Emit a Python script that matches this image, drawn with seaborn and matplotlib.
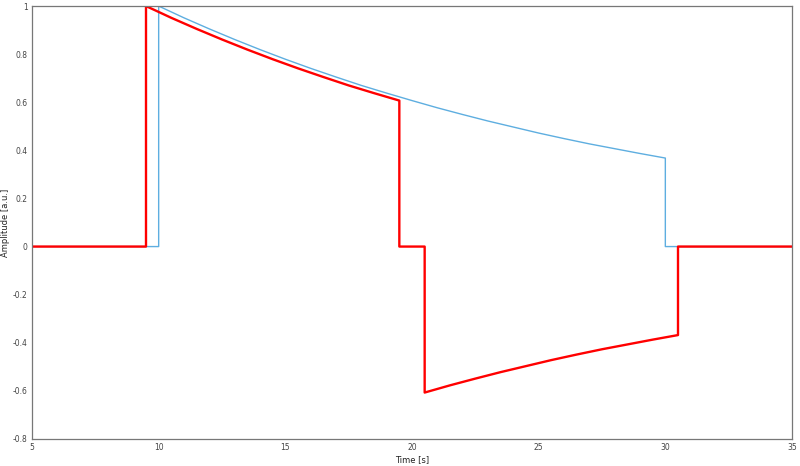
import numpy as np
import pandas as pd
import seaborn as sns
import matplotlib
matplotlib.use("Agg")
import matplotlib.pyplot as plt

# blue pulse: on at 10 s, decays until 30 s (1 s steps)
blue_on, blue_off = 10.0, 30.0
blue_decay = [1.000, 0.951, 0.905, 0.861, 0.819, 0.779, 0.741, 0.705, 0.670, 0.638,
              0.607, 0.577, 0.549, 0.522, 0.497, 0.472, 0.449, 0.427, 0.407, 0.387, 0.368]

# red pulse: positive lobe 9.5-19.5 s, negative lobe 20.5-30.5 s
red_pos_on, red_pos_off = 9.5, 19.5
red_pos_decay = [1.000, 0.951, 0.905, 0.861, 0.819, 0.779, 0.741, 0.705, 0.670, 0.638, 0.607]
red_neg_on, red_neg_off = 20.5, 30.5
red_neg_decay = [-0.607, -0.577, -0.549, -0.522, -0.497, -0.472, -0.449, -0.427, -0.407, -0.387, -0.368]

t_start, t_end = 5.0, 35.0


def lobe(t0, t1, vals):
    t = list(np.linspace(t0, t1, len(vals)))
    return [t0] + t + [t1], [0.0] + list(vals) + [0.0]


bt, bv = lobe(blue_on, blue_off, blue_decay)
blue_df = pd.DataFrame({"t": [t_start] + bt + [t_end], "a": [0.0] + bv + [0.0]})

rt1, rv1 = lobe(red_pos_on, red_pos_off, red_pos_decay)
rt2, rv2 = lobe(red_neg_on, red_neg_off, red_neg_decay)
red_df = pd.DataFrame({"t": [t_start] + rt1 + rt2 + [t_end],
                       "a": [0.0] + rv1 + rv2 + [0.0]})

sns.set_style("white")
fig = plt.figure(figsize=(8, 4.66), dpi=100)
ax = fig.add_axes([0.04, 0.058, 0.95, 0.929])

sns.lineplot(data=blue_df, x="t", y="a", sort=False, estimator=None,
             color="#5eaee0", linewidth=1.0, ax=ax)
sns.lineplot(data=red_df, x="t", y="a", sort=False, estimator=None,
             color="#ff0000", linewidth=1.7, ax=ax)

ax.set_xlim(5, 35)
ax.set_ylim(-0.8, 1)
ax.set_xticks([5, 10, 15, 20, 25, 30, 35])
ax.set_yticks([-0.8, -0.6, -0.4, -0.2, 0, 0.2, 0.4, 0.6, 0.8, 1])
ax.set_yticklabels(["-0.8", "-0.6", "-0.4", "-0.2", "0", "0.2", "0.4", "0.6", "0.8", "1"])
ax.tick_params(direction="in", length=6, width=0.8, color="#666666",
               labelsize=5.5, labelcolor="#444444", pad=3,
               top=False, right=False)
for s in ax.spines.values():
    s.set_color("#777777")
    s.set_linewidth(0.9)
ax.set_xlabel("Time [s]", fontsize=6, color="#222222", labelpad=2)
ax.set_ylabel("Amplitude [a.u.]", fontsize=6, color="#222222", labelpad=2)

fig.savefig("out.png", dpi=100)
